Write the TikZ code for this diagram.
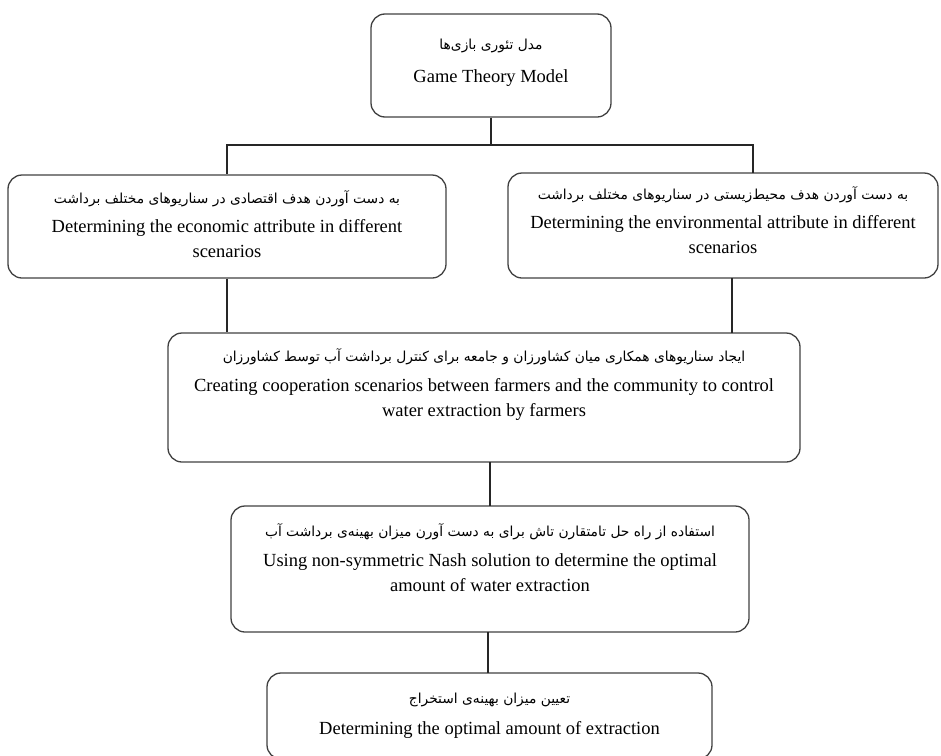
\documentclass[tikz,border=0pt]{standalone}
\usepackage{fontspec}
\usetikzlibrary{calc}
\setmainfont{Liberation Serif}
\newfontfamily\arabicfont[Script=Arabic]{DejaVu Sans}
\TeXXeTstate=1
\begin{document}
\begin{tikzpicture}[x=1pt,y=-1pt,
  box/.style={draw=black!75, line width=1.3pt, rounded corners=14pt, inner sep=0pt},
  conn/.style={draw=black!85, line width=1.3pt},
  fa/.style={font=\arabicfont\fontsize{13.8}{16}\selectfont, inner sep=0pt, anchor=base},
  en/.style={font=\fontsize{18.5}{25}\selectfont, inner sep=0pt, anchor=base, align=center}]
\useasboundingbox (0,0) rectangle (941,755);
% boxes
\node[box, minimum width=240pt, minimum height=103pt] (top) at (491,65.5) {};
\node[box, minimum width=438pt, minimum height=103pt] (lft) at (227,226.5) {};
\node[box, minimum width=430pt, minimum height=105pt] (rgt) at (723,225.5) {};
\node[box, minimum width=632pt, minimum height=129pt] (mid) at (484,397.5) {};
\node[box, minimum width=518pt, minimum height=126pt] (nash) at (490,569) {};
\node[box, minimum width=445pt, minimum height=86pt] (fin) at (489.5,716) {};
% texts
\node[fa] (t1) at (491,49) {\beginR مدل تئوری بازی‌ها\endR};
\node[en] (t2) at (491,82) {Game Theory Model};
\node[fa] (l1) at (227,203) {\beginR به دست آوردن هدف اقتصادی در سناریوهای مختلف برداشت\endR};
\node[en, anchor=north] (l2) at (227,219) {Determining the economic attribute in different\\scenarios};
\node[fa] (r1) at (723,199) {\beginR به دست آوردن هدف محیط‌زیستی در سناریوهای مختلف برداشت\endR};
\node[en, anchor=north] (r2) at (723,215) {Determining the environmental attribute in different\\scenarios};
\node[fa] (m1) at (484,361) {\beginR ایجاد سناریوهای همکاری میان کشاورزان و جامعه برای کنترل برداشت آب توسط کشاورزان\endR};
\node[en, anchor=north] (m2) at (484,378) {Creating cooperation scenarios between farmers and the community to control\\water extraction by farmers};
\node[fa] (n1) at (490,536) {\beginR استفاده از راه حل تامتقارن تاش برای به دست آورن میزان بهینه‌ی برداشت آب\endR};
\node[en, anchor=north] (n2) at (490,553) {Using non-symmetric Nash solution to determine the optimal\\amount of water extraction};
\node[fa] (f1) at (489.5,703) {\beginR تعیین میزان بهینه‌ی استخراج\endR};
\node[en] (f2) at (489.5,734) {Determining the optimal amount of extraction};
% connector end points
\coordinate (j) at (491,145);
\coordinate (rtop) at (753,172.5);
\coordinate (rbot) at (732,278);
\coordinate (rmid) at (732,333);
\coordinate (mbot) at (490,462);
\coordinate (ntop) at (490,506);
\coordinate (nbot) at (488,632);
\coordinate (ftop) at (488,673);
% connectors
\draw[conn] (top.south) -- (j);
\draw[conn] (j) -| (lft.north);
\draw[conn] (j) -| (rtop);
\draw[conn] (lft.south) -- (lft.south |- mid.north);
\draw[conn] (rbot) -- (rmid);
\draw[conn] (mbot) -- (ntop);
\draw[conn] (nbot) -- (ftop);
\end{tikzpicture}
\end{document}
